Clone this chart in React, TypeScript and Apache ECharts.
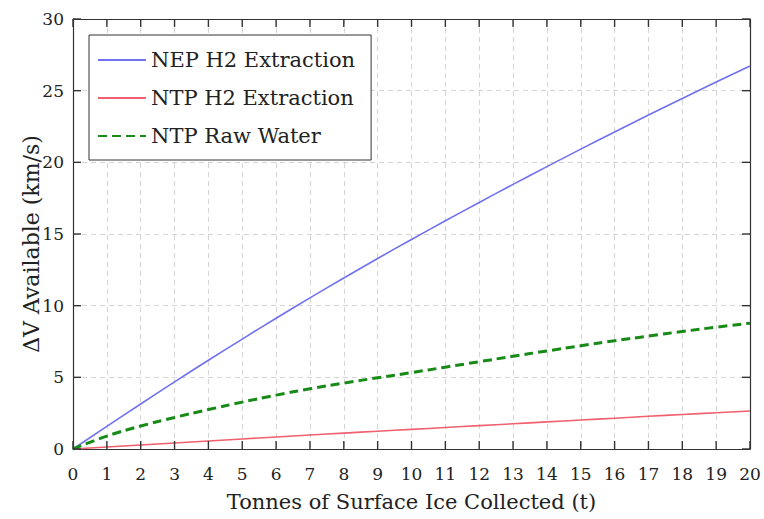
import React, { useEffect, useRef } from "react";
import * as echarts from "echarts";

const tonnes = [0, 1, 2, 3, 4, 5, 6, 7, 8, 9, 10, 11, 12, 13, 14, 15, 16, 17, 18, 19, 20];
const nepH2 = [0, 1.58, 3.14, 4.68, 6.19, 7.67, 9.12, 10.54, 11.93, 13.29, 14.62, 15.92, 17.2, 18.46, 19.7, 20.92, 22.12, 23.3, 24.46, 25.6, 26.72];
const ntpH2 = [0, 0.14, 0.28, 0.42, 0.56, 0.7, 0.84, 0.98, 1.11, 1.24, 1.37, 1.5, 1.63, 1.76, 1.89, 2.02, 2.15, 2.28, 2.41, 2.53, 2.65];
const ntpWater = [0, 0.9, 1.6, 2.2, 2.75, 3.27, 3.76, 4.2, 4.6, 4.97, 5.33, 5.71, 6.09, 6.47, 6.84, 7.2, 7.55, 7.88, 8.2, 8.5, 8.78];
const yTicks = [0, 5, 10, 15, 20, 25, 30];
const seriesNames = ["NEP H2 Extraction", "NTP H2 Extraction", "NTP Raw Water"];
const xTitle = "Tonnes of Surface Ice Collected (t)";
const yTitle = "ΔV Available (km/s)";

const FONT = "DejaVu Serif";
const AXIS_COLOR = "#333333";
const X_MIN = 0;
const X_MAX = 20;
const Y_MIN = 0;
const Y_MAX = 30;
const TICK_LEN = 8;

export default function App() {
  const ref = useRef<HTMLDivElement>(null);
  useEffect(() => {
    if (!ref.current) return;
    const chart = echarts.init(ref.current, null, { renderer: "svg" });
    const pairs = (ys: number[]) => tonnes.map((x, i) => [x, ys[i]]);
    const tickStyle = { stroke: AXIS_COLOR, lineWidth: 1.4 };
    const frameAxis = {
      axisLine: { show: true, onZero: false, lineStyle: { color: AXIS_COLOR, width: 1.2 } },
      axisTick: { show: false },
    };
    chart.setOption({
      animation: false,
      backgroundColor: "#ffffff",
      grid: { left: 73, right: 14, top: 19, bottom: 70, containLabel: false },
      legend: {
        data: seriesNames,
        orient: "vertical",
        left: 89,
        top: 35,
        padding: [14, 16, 13, 8],
        itemWidth: 48,
        itemHeight: 14,
        itemGap: 16,
        itemTextGap: 12,
        itemStyle: { opacity: 0 },
        backgroundColor: "#ffffff",
        borderColor: "#333333",
        borderWidth: 1,
        borderRadius: 0,
        textStyle: { fontFamily: FONT, fontSize: 21, lineHeight: 22, color: "#222222" },
      },
      xAxis: [
        {
          type: "value",
          min: X_MIN,
          max: X_MAX,
          interval: 1,
          position: "bottom",
          name: xTitle,
          nameLocation: "middle",
          nameGap: 42,
          nameTextStyle: { fontFamily: FONT, fontSize: 21, color: "#222222" },
          ...frameAxis,
          axisLabel: { fontFamily: FONT, fontSize: 17, color: "#222222", margin: 16 },
          splitLine: { show: true, lineStyle: { color: "#d4d4d4", type: [5, 4], width: 1 } },
        },
        {
          type: "value",
          min: X_MIN,
          max: X_MAX,
          interval: 1,
          position: "top",
          ...frameAxis,
          axisLabel: { show: false },
          splitLine: { show: false },
        },
      ],
      yAxis: [
        {
          type: "value",
          min: Y_MIN,
          max: Y_MAX,
          interval: 5,
          position: "left",
          ...frameAxis,
          axisLabel: { fontFamily: FONT, fontSize: 17, color: "#222222", margin: 9 },
          splitLine: { show: true, lineStyle: { color: "#d4d4d4", type: [5, 4], width: 1 } },
        },
        {
          type: "value",
          min: Y_MIN,
          max: Y_MAX,
          interval: 5,
          position: "right",
          ...frameAxis,
          axisLabel: { show: false },
          splitLine: { show: false },
        },
      ],
      graphic: [
        {
          type: "text",
          x: 31,
          y: 244,
          rotation: Math.PI / 2,
          style: {
            text: yTitle,
            fontFamily: FONT,
            fontSize: 22,
            fill: "#222222",
            align: "center",
            verticalAlign: "middle",
          },
        },
      ],
      series: [
        {
          name: seriesNames[0],
          type: "line",
          data: pairs(nepH2),
          symbol: "none",
          smooth: true,
          lineStyle: { color: "#7070f0", width: 1.6 },
          itemStyle: { color: "#7070f0" },
        },
        {
          name: seriesNames[1],
          type: "line",
          data: pairs(ntpH2),
          symbol: "none",
          smooth: true,
          lineStyle: { color: "#f0606e", width: 1.6 },
          itemStyle: { color: "#f0606e" },
        },
        {
          name: seriesNames[2],
          type: "line",
          data: pairs(ntpWater),
          symbol: "none",
          smooth: true,
          lineStyle: { color: "#178a17", width: 3, type: [9, 5] },
          itemStyle: { color: "#178a17" },
        },
        {
          name: "xTicks",
          type: "custom",
          silent: true,
          clip: false,
          z: 10,
          data: tonnes.map((v) => [v, Y_MIN]),
          renderItem: (_params: any, api: any) => {
            const v = api.value(0);
            const b = api.coord([v, Y_MIN]);
            const t = api.coord([v, Y_MAX]);
            return {
              type: "group",
              children: [
                { type: "line", shape: { x1: b[0], y1: b[1], x2: b[0], y2: b[1] - TICK_LEN }, style: tickStyle },
                { type: "line", shape: { x1: t[0], y1: t[1], x2: t[0], y2: t[1] + TICK_LEN }, style: tickStyle },
              ],
            };
          },
        },
        {
          name: "yTicks",
          type: "custom",
          silent: true,
          clip: false,
          z: 10,
          data: yTicks.map((v) => [X_MIN, v]),
          renderItem: (_params: any, api: any) => {
            const v = api.value(1);
            const l = api.coord([X_MIN, v]);
            const r = api.coord([X_MAX, v]);
            return {
              type: "group",
              children: [
                { type: "line", shape: { x1: l[0], y1: l[1], x2: l[0] + TICK_LEN, y2: l[1] }, style: tickStyle },
                { type: "line", shape: { x1: r[0], y1: r[1], x2: r[0] - TICK_LEN, y2: r[1] }, style: tickStyle },
              ],
            };
          },
        },
      ],
    });
    return () => chart.dispose();
  }, []);
  return (
    <div
      ref={ref}
      style={{ position: "absolute", left: 0, top: 0, width: 764, height: 519 }}
    />
  );
}
